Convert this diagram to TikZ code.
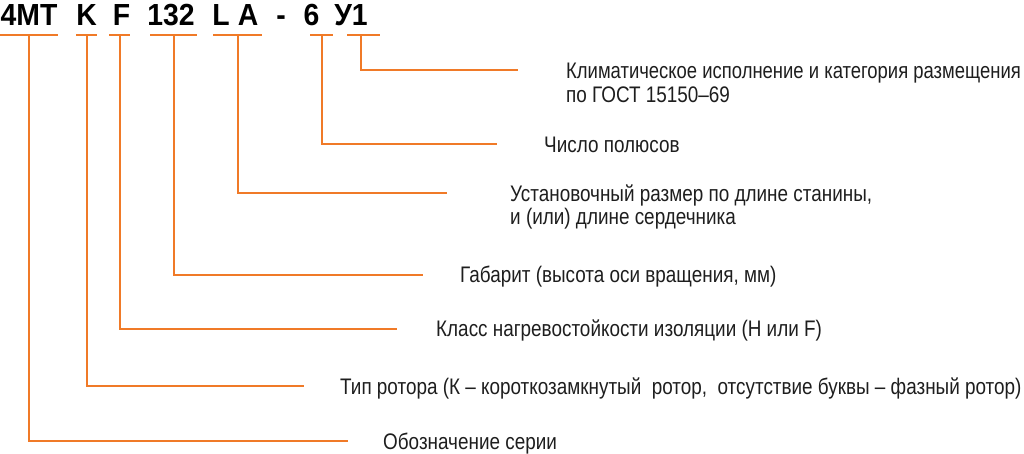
\documentclass[tikz,border=0pt]{standalone}
\usepackage{fontspec}
\setmainfont{Liberation Sans}[FakeStretch=0.84]
\newfontfamily\headfont{Liberation Sans}[FakeStretch=0.93]
\newfontfamily\narrowfont{Liberation Sans}[FakeStretch=0.82]
\definecolor{leader}{RGB}{240,122,40}
\definecolor{ink}{RGB}{30,30,30}

\begin{document}
\begin{tikzpicture}[x=1pt, y=-1pt,
  lead/.style={draw=leader, line width=2pt},
  code/.style={font=\headfont\bfseries\fontsize{30.5}{32}\selectfont, inner sep=0pt, anchor=base},
  note/.style={font=\fontsize{22.5}{24}\selectfont, text=ink, inner sep=0pt, anchor=base west}]
  \useasboundingbox (0,0) rectangle (1024,453);

  % designation
  \node[code] (c4MT) at (29,25) {4MT};
  \node[code] (cK) at (86.5,25) {K};
  \node[code] (cF) at (121.5,25) {F};
  \node[code] (c132) at (171,25) {132};
  \node[code] (cL) at (221,25) {L};
  \node[code] (cA) at (248,25) {A};
  \node[code] (cdash) at (281,25) {-};
  \node[code] (c6) at (311.5,25) {6};
  \node[code] (cU1) at (351,25) {У1};

  \draw[lead] (0,35) -- (58,35);
  \draw[lead] (76,35) -- (97,35);
  \draw[lead] (109,35) -- (130,35);
  \draw[lead] (150,35) -- (197,35);
  \draw[lead] (213,35) -- (262,35);
  \draw[lead] (310,35) -- (333,35);
  \draw[lead] (347,35) -- (380,35);

  \coordinate (b4MT) at (29,35);
  \coordinate (bK) at (86.5,35);
  \coordinate (bF) at (119.5,35);
  \coordinate (b132) at (173.5,35);
  \coordinate (bLA) at (237.5,35);
  \coordinate (b6) at (321.5,35);
  \coordinate (bU1) at (361,35);

  \coordinate (eU1) at (518,70);
  \coordinate (e6) at (497,144);
  \coordinate (eLA) at (447,193);
  \coordinate (e132) at (423,274.5);
  \coordinate (eF) at (397,328.5);
  \coordinate (eK) at (304,386);
  \coordinate (e4MT) at (348,441);

  % meanings
  \node[note, font=\narrowfont\fontsize{22.5}{24}\selectfont] (nU1) at (566,78) {Климатическое исполнение и категория размещения};
  \node[note] (nU1b) at ([yshift=-24pt]nU1.base west) {по ГОСТ 15150–69};
  \node[note] (n6) at (544,152) {Число полюсов};
  \node[note] (nLA) at (510,201) {Установочный размер по длине станины,};
  \node[note] (nLAb) at ([yshift=-23.5pt]nLA.base west) {и (или) длине сердечника};
  \node[note] (n132) at (460,282.5) {Габарит (высота оси вращения, мм)};
  \node[note] (nF) at (436,336.5) {Класс нагревостойкости изоляции (Н или F)};
  \node[note] (nK) at (340,394) {Тип ротора (К – короткозамкнутый\ \ ротор,\ \ отсутствие буквы – фазный ротор)};
  \node[note] (n4MT) at (383,449) {Обозначение серии};

  \draw[lead] (bU1) |- (eU1);
  \draw[lead] (b6) |- (e6);
  \draw[lead] (bLA) |- (eLA);
  \draw[lead] (b132) |- (e132);
  \draw[lead] (bF) |- (eF);
  \draw[lead] (bK) |- (eK);
  \draw[lead] (b4MT) |- (e4MT);
\end{tikzpicture}
\end{document}
